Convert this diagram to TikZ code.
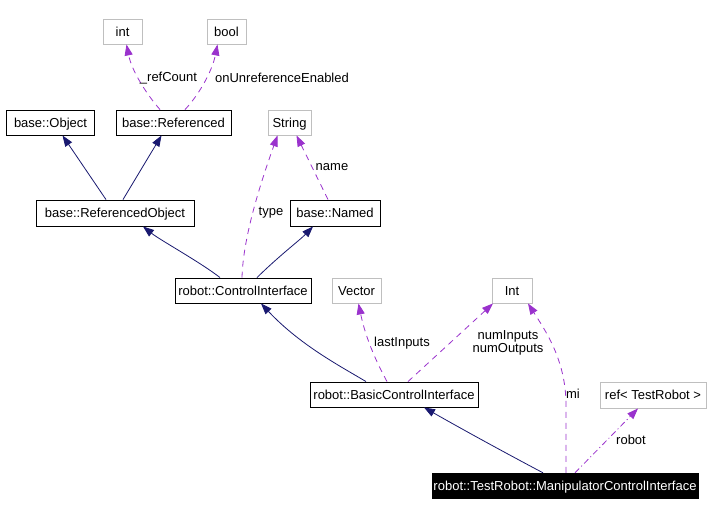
\documentclass[tikz,border=0pt]{standalone}
\usepackage{fontspec}
\setmainfont{Liberation Sans}
\usetikzlibrary{arrows.meta}
\definecolor{edgenavy}{HTML}{191970}
\definecolor{edgepurple}{HTML}{9A32CD}
\definecolor{boxgrey}{HTML}{BFBFBF}
\tikzset{
  boxfont/.style={font=\fontsize{13}{15}\selectfont, text height=9.4pt, text depth=0pt},
  cls/.style={draw=black, line width=0.9pt, inner sep=0pt, boxfont},
  ext/.style={draw=boxgrey, line width=0.9pt, inner sep=0pt, boxfont},
  main/.style={fill=black, draw=black, text=white, inner sep=0pt, boxfont},
  inh/.style={draw=edgenavy, line width=0.8pt, -{Triangle[length=11pt,width=8pt,fill=edgenavy]}},
  use/.style={draw=edgepurple, line width=0.8pt, dash pattern=on 6pt off 5pt, -{Triangle[length=11pt,width=8pt,fill=edgepurple]}},
  usedot/.style={draw=edgepurple, line width=0.8pt, dash pattern=on 6pt off 3pt on 1pt off 3pt, -{Triangle[length=11pt,width=8pt,fill=edgepurple]}},
  lbl/.style={font=\fontsize{13}{15}\selectfont, inner sep=0pt, align=center}
}
\begin{document}
\begin{tikzpicture}[x=1pt,y=-1pt]
\useasboundingbox[fill=white] (0,0) rectangle (711,515);
% nodes
\node[ext, minimum width=39, minimum height=25] (int) at (122.5,31.5) {int};
\node[ext, minimum width=39, minimum height=25] (bool) at (226.5,31.5) {bool};
\node[cls, minimum width=88, minimum height=25] (obj) at (50.5,122.5) {base::Object};
\node[cls, minimum width=115, minimum height=25] (refd) at (173.5,122.5) {base::Referenced};
\node[ext, minimum width=43, minimum height=25] (string) at (289.5,122.5) {String};
\node[cls, minimum width=158, minimum height=26] (refobj) at (115,213) {base::ReferencedObject};
\node[cls, minimum width=90, minimum height=26] (named) at (335,213) {base::Named};
\node[cls, minimum width=136, minimum height=25] (ci) at (243,290.5) {robot::ControlInterface};
\node[ext, minimum width=49, minimum height=25] (vector) at (356.5,290.5) {Vector};
\node[ext, minimum width=40, minimum height=25] (Int) at (512,290.5) {Int};
\node[cls, minimum width=168, minimum height=25] (bci) at (394,394.5) {robot::BasicControlInterface};
\node[ext, minimum width=106, minimum height=26] (ref) at (653,395) {ref< TestRobot >};
\node[main, minimum width=266, minimum height=25] (mci) at (565,485.5) {robot::TestRobot::ManipulatorControlInterface};
% edges
\draw[use] ([xshift=-13.5pt]refd.north) .. controls (148,96) and (132,72) .. ([xshift=4pt]int.south);
\node[lbl] (l1) at (168.5,78) {\_refCount};
\draw[use] ([xshift=11.5pt]refd.north) .. controls (198,96) and (212,72) .. ([xshift=-9pt]bool.south);
\node[lbl] (l2) at (282,78) {onUnreferenceEnabled};
\draw[inh] ([xshift=-9pt]refobj.north) -- ([xshift=12pt]obj.south);
\draw[inh] ([xshift=8pt]refobj.north) -- ([xshift=-12pt]refd.south);
\draw[inh] ([xshift=-23pt]ci.north) .. controls (200,262) and (160,240) .. ([xshift=28pt]refobj.south);
\draw[inh] ([xshift=14pt]ci.north) .. controls (280,255) and (300,240) .. ([xshift=-22pt]named.south);
\draw[use] ([xshift=-1pt]ci.north) .. controls (243,240) and (258,190) .. ([xshift=-12pt]string.south);
\node[lbl] (l3) at (271,213) {type};
\draw[use] ([xshift=-7pt]named.north) -- ([xshift=7pt]string.south);
\node[lbl] (l4) at (332,167) {name};
\draw[inh] ([xshift=-28pt]bci.north) .. controls (340,366) and (300,345) .. ([xshift=18pt]ci.south);
\draw[use] ([xshift=-7pt]bci.north) .. controls (378,365) and (366,340) .. ([xshift=2pt]vector.south);
\node[lbl] (l5) at (402,343) {lastInputs};
\draw[use] ([xshift=14pt]bci.north) -- ([xshift=-19pt]Int.south);
\node[lbl] (l6) at (508,343) {numInputs\\[-2pt]numOutputs};
\draw[inh] ([xshift=-22pt]mci.north) .. controls (500,450) and (460,428) .. ([xshift=30pt]bci.south);
\draw[use] ([xshift=1pt]mci.north) -- (566,405) .. controls (566,360) and (545,330) .. ([xshift=16pt]Int.south);
\node[lbl] (l7) at (573,394) {mi};
\draw[usedot] ([xshift=10pt]mci.north) -- ([xshift=-15pt]ref.south);
\node[lbl] (l8) at (631,440) {robot};
\end{tikzpicture}
\end{document}
